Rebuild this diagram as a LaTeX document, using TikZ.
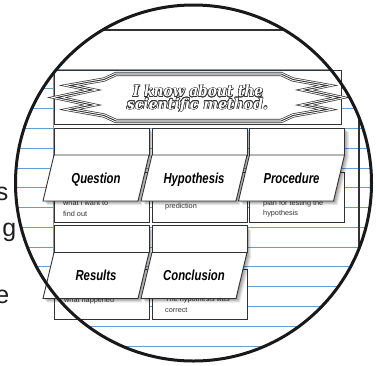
\documentclass[tikz,border=0pt]{standalone}
\usepackage{fontspec}
\usetikzlibrary{calc}
\setmainfont{Liberation Sans}
\newfontfamily\titlefont{DejaVu Serif}
\newfontfamily\flapfont[FakeStretch=0.78]{Liberation Sans}
\definecolor{paperblue}{RGB}{95,158,214}
\definecolor{ink}{RGB}{50,50,50}
\tikzset{
  paperline/.style={draw=paperblue, line width=0.9pt},
  pageedge/.style={draw=ink, line width=1.4pt},
  cardbox/.style={fill=white, draw=ink, line width=0.9pt},
  shade/.style={fill=black, opacity=0.085},
  flaplabel/.style={font=\flapfont\bfseries\itshape\fontsize{14.5}{14.5}\selectfont, text=black, inner sep=0pt, anchor=base},
  smalltext/.style={font=\fontsize{7.3}{8}\selectfont, text=ink, inner sep=0pt, anchor=base west},
  bigletter/.style={font=\fontsize{25}{25}\selectfont, text=black!88, inner sep=0pt, anchor=base east},
  titlenode/.style={inner sep=0pt},
  ring/.style={draw=black!90, line width=3pt},
}
% lower box of a card
\newcommand\lowerbox[2]{\draw[cardbox] (#1,#2+44) rectangle (#1+95,#2+94);}
% top box of a card
\newcommand\topbox[2]{%
  \foreach \k in {1,...,5} \fill[shade] (#1+\k*0.8,#2+\k*0.8) rectangle (#1+95+\k*0.8,#2+27+\k*0.8);
  \draw[cardbox] (#1,#2) rectangle (#1+95,#2+27);}
% flap of a card
\newcommand\flap[4]{%
  \foreach \k in {1,...,5} \fill[shade] (#1+\k*0.8,#2+27+\k*0.8) -- ++(95,0) -- ++(-11,46) -- ++(-95,0) -- cycle;
  \draw[cardbox] (#1,#2+27) -- ++(95,0) -- ++(-11,46) -- ++(-95,0) -- cycle;
  \node[flaplabel] (#3) at (#1+42,#2+55) {#4};}
% outlined title line
\newcommand\titletext[3]{\resizebox*{#1}{#2}{\titlefont\bfseries\itshape #3}}
\newcommand\titleline[6]{% name, x, y, width, height, text
  \foreach \a in {0,30,...,330}
    \node[titlenode, text=black!80] at ($(#2,#3)+(\a:0.6)$) {\titletext{#4}{#5}{#6}};
  \node[titlenode, text=white] (#1) at (#2,#3) {\titletext{#4}{#5}{#6}};}
\begin{document}
\begin{tikzpicture}[x=1pt,y=-1pt]
\useasboundingbox (0,0) rectangle (377,365);
% lined paper inside the lens
\begin{scope}
  \clip (193.5,183) circle (178);
  \foreach \k in {0,...,14} \draw[paperline] (0,69+19.79*\k) -- (377,69+19.79*\k);
  \draw[paperline] (53,69) -- (53,365);
  \draw[pageedge] (0,30) -- (377,30);
  \draw[pageedge] (359,60) -- (359,365);
\end{scope}
% banner
\draw[fill=white, draw=ink, line width=1pt] (54,70) rectangle (341,124);
\def\ribbon{(57,97.5) -- (92,90) -- (70,85.5) -- (104,79.5) -- (116,74) -- (281,74) -- (293,79.5) -- (327,85.5) -- (305,90) -- (340,97.5) -- (305,105) -- (327,109.5) -- (293,115.5) -- (281,121) -- (116,121) -- (104,115.5) -- (70,109.5) -- (92,105) -- cycle}
\fill[white] \ribbon;
\draw[ink, line width=4.2pt, line join=miter] \ribbon;
\draw[white, line width=2.8pt, line join=miter] \ribbon;
\draw[ink, line width=0.9pt, line join=miter] \ribbon;
\titleline{t1}{198}{91}{130pt}{12pt}{I know about the}
\titleline{t2}{197.5}{105}{141pt}{14pt}{scientific method.}
% lower boxes and their texts
\lowerbox{54}{128}
\lowerbox{152}{128}
\lowerbox{249.5}{128}
\lowerbox{54}{225.5}
\lowerbox{152}{225.5}
\node[smalltext] (q1) at (63,205.5) {what I want to};
\node[smalltext] (q2) at (63,216) {find out};
\node[smalltext] (h1) at (165,208) {prediction};
\node[smalltext] (p1) at (263,205) {plan for testing the};
\node[smalltext] (p2) at (263,215.5) {hypothesis};
\node[smalltext] (r1) at (64,302) {what happened};
\node[smalltext] (c1) at (165,301.5) {The hypothesis was};
\node[smalltext] (c2) at (165,312) {correct};
% top boxes
\topbox{54}{128}
\topbox{152}{128}
\topbox{249.5}{128}
\topbox{54}{225.5}
\topbox{152}{225.5}
% flaps
\flap{54}{128}{question}{Question}
\flap{152}{128}{hypothesis}{Hypothesis}
\flap{249.5}{128}{procedure}{Procedure}
\flap{54}{225.5}{results}{Results}
\flap{152}{225.5}{conclusion}{Conclusion}
% letters of the page text outside the lens
\node[bigletter] (ls) at (8.5,200) {s};
\node[bigletter] (lg) at (16.5,236) {g};
\node[bigletter] (le) at (9.5,303) {e};
% lens ring
\draw[ring] (193.5,183) circle (178);
\end{tikzpicture}
\end{document}
